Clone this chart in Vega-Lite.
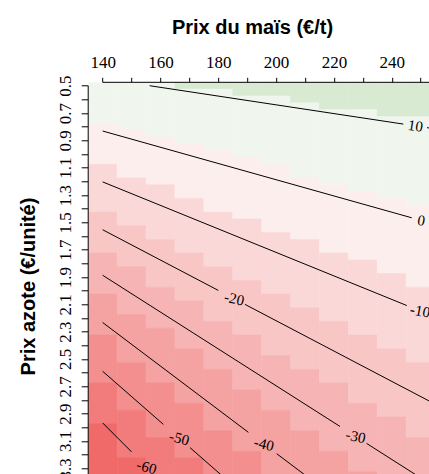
{
  "$schema": "https://vega.github.io/schema/vega-lite/v6.json",
  "width": 340.8,
  "height": 391.7,
  "autosize": {"type": "none"},
  "padding": {"left": 88.2, "top": 82.3, "right": 0, "bottom": 0},
  "background": "white",
  "config": {"view": {"stroke": null}, "axis": {"grid": false, "labelOverlap": false}},
  "datasets": {
    "cells": [
      {"mais_min":135,"mais_max":145,"azote_min":0.475,"azote_max":0.775,"classe":2},
      {"mais_min":135,"mais_max":145,"azote_min":0.775,"azote_max":1.075,"classe":3},
      {"mais_min":135,"mais_max":145,"azote_min":1.075,"azote_max":1.425,"classe":4},
      {"mais_min":135,"mais_max":145,"azote_min":1.425,"azote_max":1.725,"classe":5},
      {"mais_min":135,"mais_max":145,"azote_min":1.725,"azote_max":2.025,"classe":6},
      {"mais_min":135,"mais_max":145,"azote_min":2.025,"azote_max":2.325,"classe":7},
      {"mais_min":135,"mais_max":145,"azote_min":2.325,"azote_max":2.675,"classe":8},
      {"mais_min":135,"mais_max":145,"azote_min":2.675,"azote_max":2.975,"classe":9},
      {"mais_min":135,"mais_max":145,"azote_min":2.975,"azote_max":3.375,"classe":10},
      {"mais_min":145,"mais_max":155,"azote_min":0.475,"azote_max":0.825,"classe":2},
      {"mais_min":145,"mais_max":155,"azote_min":0.825,"azote_max":1.175,"classe":3},
      {"mais_min":145,"mais_max":155,"azote_min":1.175,"azote_max":1.525,"classe":4},
      {"mais_min":145,"mais_max":155,"azote_min":1.525,"azote_max":1.825,"classe":5},
      {"mais_min":145,"mais_max":155,"azote_min":1.825,"azote_max":2.175,"classe":6},
      {"mais_min":145,"mais_max":155,"azote_min":2.175,"azote_max":2.525,"classe":7},
      {"mais_min":145,"mais_max":155,"azote_min":2.525,"azote_max":2.875,"classe":8},
      {"mais_min":145,"mais_max":155,"azote_min":2.875,"azote_max":3.225,"classe":9},
      {"mais_min":145,"mais_max":155,"azote_min":3.225,"azote_max":3.375,"classe":10},
      {"mais_min":155,"mais_max":165,"azote_min":0.475,"azote_max":0.875,"classe":2},
      {"mais_min":155,"mais_max":165,"azote_min":0.875,"azote_max":1.225,"classe":3},
      {"mais_min":155,"mais_max":165,"azote_min":1.225,"azote_max":1.625,"classe":4},
      {"mais_min":155,"mais_max":165,"azote_min":1.625,"azote_max":1.975,"classe":5},
      {"mais_min":155,"mais_max":165,"azote_min":1.975,"azote_max":2.275,"classe":6},
      {"mais_min":155,"mais_max":165,"azote_min":2.275,"azote_max":2.675,"classe":7},
      {"mais_min":155,"mais_max":165,"azote_min":2.675,"azote_max":3.075,"classe":8},
      {"mais_min":155,"mais_max":165,"azote_min":3.075,"azote_max":3.375,"classe":9},
      {"mais_min":165,"mais_max":175,"azote_min":0.475,"azote_max":0.525,"classe":1},
      {"mais_min":165,"mais_max":175,"azote_min":0.525,"azote_max":0.925,"classe":2},
      {"mais_min":165,"mais_max":175,"azote_min":0.925,"azote_max":1.325,"classe":3},
      {"mais_min":165,"mais_max":175,"azote_min":1.325,"azote_max":1.725,"classe":4},
      {"mais_min":165,"mais_max":175,"azote_min":1.725,"azote_max":2.075,"classe":5},
      {"mais_min":165,"mais_max":175,"azote_min":2.075,"azote_max":2.425,"classe":6},
      {"mais_min":165,"mais_max":175,"azote_min":2.425,"azote_max":2.825,"classe":7},
      {"mais_min":165,"mais_max":175,"azote_min":2.825,"azote_max":3.225,"classe":8},
      {"mais_min":165,"mais_max":175,"azote_min":3.225,"azote_max":3.375,"classe":9},
      {"mais_min":175,"mais_max":185,"azote_min":0.475,"azote_max":0.525,"classe":1},
      {"mais_min":175,"mais_max":185,"azote_min":0.525,"azote_max":0.975,"classe":2},
      {"mais_min":175,"mais_max":185,"azote_min":0.975,"azote_max":1.425,"classe":3},
      {"mais_min":175,"mais_max":185,"azote_min":1.425,"azote_max":1.825,"classe":4},
      {"mais_min":175,"mais_max":185,"azote_min":1.825,"azote_max":2.225,"classe":5},
      {"mais_min":175,"mais_max":185,"azote_min":2.225,"azote_max":2.575,"classe":6},
      {"mais_min":175,"mais_max":185,"azote_min":2.575,"azote_max":3.025,"classe":7},
      {"mais_min":175,"mais_max":185,"azote_min":3.025,"azote_max":3.375,"classe":8},
      {"mais_min":185,"mais_max":195,"azote_min":0.475,"azote_max":0.575,"classe":1},
      {"mais_min":185,"mais_max":195,"azote_min":0.575,"azote_max":1.025,"classe":2},
      {"mais_min":185,"mais_max":195,"azote_min":1.025,"azote_max":1.475,"classe":3},
      {"mais_min":185,"mais_max":195,"azote_min":1.475,"azote_max":1.925,"classe":4},
      {"mais_min":185,"mais_max":195,"azote_min":1.925,"azote_max":2.325,"classe":5},
      {"mais_min":185,"mais_max":195,"azote_min":2.325,"azote_max":2.725,"classe":6},
      {"mais_min":185,"mais_max":195,"azote_min":2.725,"azote_max":3.175,"classe":7},
      {"mais_min":185,"mais_max":195,"azote_min":3.175,"azote_max":3.375,"classe":8},
      {"mais_min":195,"mais_max":205,"azote_min":0.475,"azote_max":0.575,"classe":1},
      {"mais_min":195,"mais_max":205,"azote_min":0.575,"azote_max":1.075,"classe":2},
      {"mais_min":195,"mais_max":205,"azote_min":1.075,"azote_max":1.575,"classe":3},
      {"mais_min":195,"mais_max":205,"azote_min":1.575,"azote_max":2.025,"classe":4},
      {"mais_min":195,"mais_max":205,"azote_min":2.025,"azote_max":2.475,"classe":5},
      {"mais_min":195,"mais_max":205,"azote_min":2.475,"azote_max":2.875,"classe":6},
      {"mais_min":195,"mais_max":205,"azote_min":2.875,"azote_max":3.375,"classe":7},
      {"mais_min":205,"mais_max":215,"azote_min":0.475,"azote_max":0.625,"classe":1},
      {"mais_min":205,"mais_max":215,"azote_min":0.625,"azote_max":1.175,"classe":2},
      {"mais_min":205,"mais_max":215,"azote_min":1.175,"azote_max":1.625,"classe":3},
      {"mais_min":205,"mais_max":215,"azote_min":1.625,"azote_max":2.125,"classe":4},
      {"mais_min":205,"mais_max":215,"azote_min":2.125,"azote_max":2.575,"classe":5},
      {"mais_min":205,"mais_max":215,"azote_min":2.575,"azote_max":3.025,"classe":6},
      {"mais_min":205,"mais_max":215,"azote_min":3.025,"azote_max":3.375,"classe":7},
      {"mais_min":215,"mais_max":225,"azote_min":0.475,"azote_max":0.675,"classe":1},
      {"mais_min":215,"mais_max":225,"azote_min":0.675,"azote_max":1.225,"classe":2},
      {"mais_min":215,"mais_max":225,"azote_min":1.225,"azote_max":1.725,"classe":3},
      {"mais_min":215,"mais_max":225,"azote_min":1.725,"azote_max":2.225,"classe":4},
      {"mais_min":215,"mais_max":225,"azote_min":2.225,"azote_max":2.675,"classe":5},
      {"mais_min":215,"mais_max":225,"azote_min":2.675,"azote_max":3.175,"classe":6},
      {"mais_min":215,"mais_max":225,"azote_min":3.175,"azote_max":3.375,"classe":7},
      {"mais_min":225,"mais_max":235,"azote_min":0.475,"azote_max":0.675,"classe":1},
      {"mais_min":225,"mais_max":235,"azote_min":0.675,"azote_max":1.275,"classe":2},
      {"mais_min":225,"mais_max":235,"azote_min":1.275,"azote_max":1.775,"classe":3},
      {"mais_min":225,"mais_max":235,"azote_min":1.775,"azote_max":2.325,"classe":4},
      {"mais_min":225,"mais_max":235,"azote_min":2.325,"azote_max":2.825,"classe":5},
      {"mais_min":225,"mais_max":235,"azote_min":2.825,"azote_max":3.325,"classe":6},
      {"mais_min":225,"mais_max":235,"azote_min":3.325,"azote_max":3.375,"classe":7},
      {"mais_min":235,"mais_max":245,"azote_min":0.475,"azote_max":0.725,"classe":1},
      {"mais_min":235,"mais_max":245,"azote_min":0.725,"azote_max":1.325,"classe":2},
      {"mais_min":235,"mais_max":245,"azote_min":1.325,"azote_max":1.875,"classe":3},
      {"mais_min":235,"mais_max":245,"azote_min":1.875,"azote_max":2.425,"classe":4},
      {"mais_min":235,"mais_max":245,"azote_min":2.425,"azote_max":2.925,"classe":5},
      {"mais_min":235,"mais_max":245,"azote_min":2.925,"azote_max":3.375,"classe":6},
      {"mais_min":245,"mais_max":255,"azote_min":0.475,"azote_max":0.725,"classe":1},
      {"mais_min":245,"mais_max":255,"azote_min":0.725,"azote_max":1.375,"classe":2},
      {"mais_min":245,"mais_max":255,"azote_min":1.375,"azote_max":1.975,"classe":3},
      {"mais_min":245,"mais_max":255,"azote_min":1.975,"azote_max":2.525,"classe":4},
      {"mais_min":245,"mais_max":255,"azote_min":2.525,"azote_max":3.075,"classe":5},
      {"mais_min":245,"mais_max":255,"azote_min":3.075,"azote_max":3.375,"classe":6}
    ],
    "contours": [
      {"niveau":"10","segment":"10a","mais":156.25,"azote":0.5},
      {"niveau":"10","segment":"10a","mais":244.0,"azote":0.7808},
      {"niveau":"10","segment":"10b","mais":252.2,"azote":0.807},
      {"niveau":"10","segment":"10b","mais":262,"azote":0.8384},
      {"niveau":"0","segment":"0a","mais":140,"azote":0.8316},
      {"niveau":"0","segment":"0a","mais":246.9,"azote":1.4666},
      {"niveau":"-10","segment":"-10a","mais":140,"azote":1.204},
      {"niveau":"-10","segment":"-10a","mais":245.2,"azote":2.1087},
      {"niveau":"-20","segment":"-20a","mais":140,"azote":1.554},
      {"niveau":"-20","segment":"-20a","mais":180.0,"azote":1.998},
      {"niveau":"-20","segment":"-20b","mais":189.2,"azote":2.1001},
      {"niveau":"-20","segment":"-20b","mais":262,"azote":2.9082},
      {"niveau":"-30","segment":"-30a","mais":140,"azote":1.8872},
      {"niveau":"-30","segment":"-30a","mais":222.1,"azote":2.9939},
      {"niveau":"-30","segment":"-30b","mais":231.3,"azote":3.1179},
      {"niveau":"-30","segment":"-30b","mais":262,"azote":3.5318},
      {"niveau":"-40","segment":"-40a","mais":140,"azote":2.233},
      {"niveau":"-40","segment":"-40a","mais":190.4,"azote":3.0369},
      {"niveau":"-40","segment":"-40b","mais":200.2,"azote":3.1932},
      {"niveau":"-40","segment":"-40b","mais":225,"azote":3.5888},
      {"niveau":"-50","segment":"-50a","mais":140,"azote":2.59},
      {"niveau":"-50","segment":"-50a","mais":161.0,"azote":2.9785},
      {"niveau":"-50","segment":"-50b","mais":170.2,"azote":3.1487},
      {"niveau":"-50","segment":"-50b","mais":195,"azote":3.6075},
      {"niveau":"-60","segment":"-60a","mais":140,"azote":2.968},
      {"niveau":"-60","segment":"-60a","mais":150.0,"azote":3.18},
      {"niveau":"-60","segment":"-60b","mais":158.4,"azote":3.3581},
      {"niveau":"-60","segment":"-60b","mais":170,"azote":3.604}
    ],
    "etiquettes": [
      {"niveau":"10","mais":248.2,"azote":0.7942},
      {"niveau":"0","mais":250.2,"azote":1.4862},
      {"niveau":"-10","mais":249.8,"azote":2.148},
      {"niveau":"-20","mais":185.5,"azote":2.059},
      {"niveau":"-30","mais":227.5,"azote":3.0667},
      {"niveau":"-40","mais":195.8,"azote":3.123},
      {"niveau":"-50","mais":166.5,"azote":3.0803},
      {"niveau":"-60","mais":155.2,"azote":3.2902}
    ]
  },
  "layer": [
    {
      "data": {"name": "cells"},
      "mark": {"type": "rect", "clip": true, "strokeWidth": 0.6},
      "encoding": {
        "x": {
          "field": "mais_min", "type": "quantitative",
          "scale": {"domain": [135, 252.88], "nice": false, "zero": false},
          "axis": {
            "orient": "top",
            "values": [140,150,160,170,180,190,200,210,220,230,240,250],
            "tickCount": 100,
            "labelExpr": "datum.value % 20 == 0 ? datum.label : ''",
            "format": "d",
            "title": "Prix du maïs (€/t)",
            "titleFont": "Liberation Sans", "titleFontWeight": "bold", "titleFontSize": 20,
            "titleColor": "black", "titleX": 163.8, "titleY": -49, "titleAlign": "center",
            "titleBaseline": "alphabetic", "titleAnchor": null,
            "labelFont": "Liberation Sans Narrow", "labelFontSize": 17, "labelColor": "black",
            "labelBaseline": "alphabetic", "labelAlign": "center", "labelPadding": 10,
            "labelFlush": false, "labelOverlap": false,
            "tickSize": 5, "tickColor": "black", "tickWidth": 1,
            "domain": false
          }
        },
        "x2": {"field": "mais_max"},
        "y": {
          "field": "azote_min", "type": "quantitative",
          "scale": {"domain": [0.475, 3.3418], "reverse": true, "nice": false, "zero": false},
          "axis": {
            "orient": "left",
            "values": [0.5,0.6,0.7,0.8,0.9,1.0,1.1,1.2,1.3,1.4,1.5,1.6,1.7,1.8,1.9,2.0,2.1,2.2,2.3,2.4,2.5,2.6,2.7,2.8,2.9,3.0,3.1,3.2,3.3],
            "tickCount": 100,
            "labelExpr": "round(datum.value * 10) % 2 == 1 ? format(datum.value, '.1f') : ''",
            "title": "Prix azote (€/unité)",
            "titleFont": "Liberation Sans", "titleFontWeight": "bold", "titleFontSize": 20,
            "titleColor": "black", "titleAngle": 270, "titleX": -53.2, "titleY": 203.7,
            "titleAlign": "center", "titleBaseline": "alphabetic", "titleAnchor": null,
            "labelFont": "Liberation Sans Narrow", "labelFontSize": 17, "labelColor": "black",
            "labelAngle": 270, "labelAlign": "center", "labelBaseline": "middle", "labelPadding": 16,
            "labelFlush": false, "labelOverlap": false,
            "tickSize": 7, "tickColor": "black", "tickWidth": 1,
            "domain": false
          }
        },
        "y2": {"field": "azote_max"},
        "color": {
          "field": "classe", "type": "ordinal",
          "scale": {"domain": [1,2,3,4,5,6,7,8,9,10], "range": ["#d9ead3","#f0f6ee","#fdeeee","#fbd8d8","#f9c6c6","#f7b4b4","#f5a2a2","#f48f8f","#f27c7c","#f06a6a"]},
          "legend": null
        },
        "stroke": {
          "field": "classe", "type": "ordinal",
          "scale": {"domain": [1,2,3,4,5,6,7,8,9,10], "range": ["#d9ead3","#f0f6ee","#fdeeee","#fbd8d8","#f9c6c6","#f7b4b4","#f5a2a2","#f48f8f","#f27c7c","#f06a6a"]},
          "legend": null
        }
      }
    },
    {
      "data": {"name": "contours"},
      "mark": {"type": "line", "clip": true, "color": "black", "strokeWidth": 1},
      "encoding": {
        "x": {"field": "mais", "type": "quantitative"},
        "y": {"field": "azote", "type": "quantitative"},
        "detail": {"field": "segment", "type": "nominal"},
        "order": {"field": "mais", "type": "quantitative"}
      }
    },
    {
      "data": {"name": "etiquettes"},
      "mark": {"type": "text", "font": "Liberation Sans Narrow", "fontSize": 15, "color": "black", "align": "center", "baseline": "middle"},
      "encoding": {
        "x": {"field": "mais", "type": "quantitative"},
        "y": {"field": "azote", "type": "quantitative"},
        "text": {"field": "niveau", "type": "nominal"},
        "angle": {
          "field": "niveau", "type": "nominal",
          "scale": {"domain": ["10","0","-10","-20","-30","-40","-50","-60"], "range": [8.6,15.7,22.1,27.7,32.5,37.0,41.2,45.0]},
          "legend": null
        }
      }
    },
    {
      "data": {"values": [{}]},
      "mark": {"type": "rule", "color": "black", "strokeWidth": 1},
      "encoding": {
        "x": {"datum": 140, "type": "quantitative"},
        "x2": {"datum": 252.88},
        "y": {"datum": 0.475, "type": "quantitative"}
      }
    },
    {
      "data": {"values": [{}]},
      "mark": {"type": "rule", "color": "black", "strokeWidth": 1},
      "encoding": {
        "x": {"datum": 135, "type": "quantitative"},
        "y": {"datum": 0.5, "type": "quantitative"},
        "y2": {"datum": 3.3418}
      }
    }
  ]
}
